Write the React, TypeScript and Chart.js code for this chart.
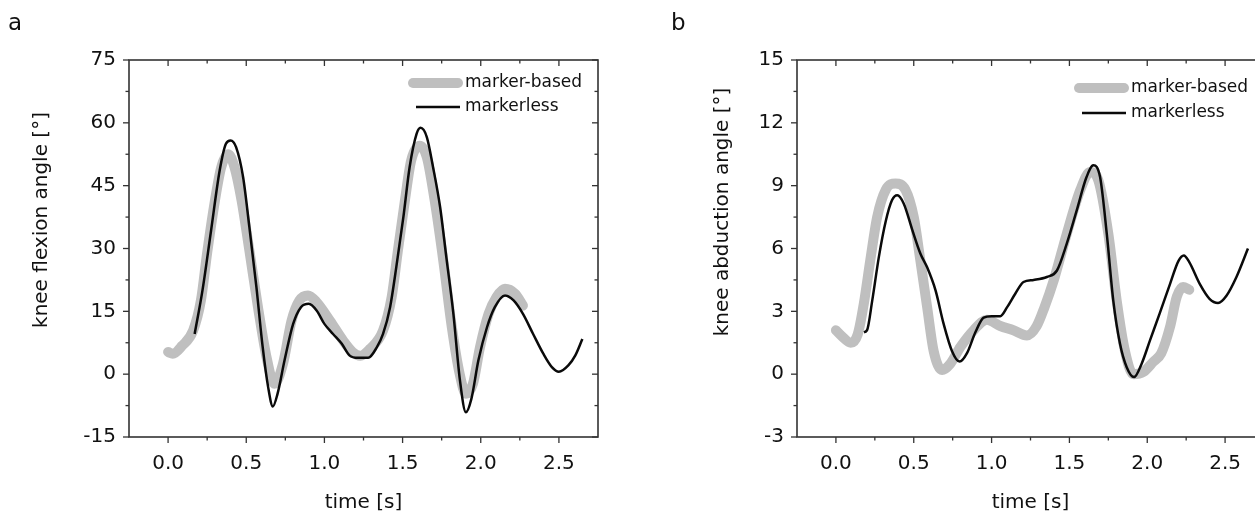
import React, { useEffect, useRef } from "react";
import { Chart, registerables } from "chart.js";

Chart.register(...registerables);

// ---------- data ----------
const xTickValues = [0, 0.5, 1.0, 1.5, 2.0, 2.5];
const flexionTickValues = [-15, 0, 15, 30, 45, 60, 75];
const abductionTickValues = [-3, 0, 3, 6, 9, 12, 15];

const flexionMarkerBasedTime = [0.0, 0.03, 0.09, 0.16, 0.21, 0.25, 0.3, 0.34, 0.385, 0.425, 0.47, 0.52, 0.575, 0.63, 0.68, 0.735, 0.79, 0.84, 0.895, 0.95, 1.035, 1.12, 1.18, 1.23, 1.29, 1.375, 1.43, 1.47, 1.515, 1.555, 1.61, 1.655, 1.705, 1.76, 1.815, 1.865, 1.905, 1.95, 1.995, 2.05, 2.1, 2.155, 2.22, 2.27];
const flexionMarkerBasedAngle = [5.3, 4.9, 6.8, 10.4, 17.6, 29, 41.5, 49.4, 52.5, 49.4, 41.5, 29.5, 16, 4, -2.3, 2.5, 12.8, 17.6, 18.8, 17.2, 12.8, 8, 5.3, 4.4, 6.0, 10.4, 18.4, 29.5, 41.5, 51, 54.5, 51.8, 41.5, 27.2, 11.2, 0.1, -4.7, -2.3, 6.4, 14.4, 18.4, 20.4, 19.2, 16.4];

const flexionMarkerlessTime = [0.17, 0.22, 0.275, 0.33, 0.37, 0.4, 0.435, 0.48, 0.52, 0.565, 0.605, 0.64, 0.67, 0.7, 0.745, 0.8, 0.85, 0.9, 0.95, 1.0, 1.055, 1.11, 1.16, 1.215, 1.28, 1.335, 1.375, 1.42, 1.46, 1.505, 1.545, 1.59, 1.615, 1.655, 1.695, 1.74, 1.78, 1.825, 1.867, 1.905, 1.94, 1.985, 2.04, 2.09, 2.155, 2.21, 2.27, 2.335, 2.4, 2.455, 2.5, 2.56, 2.605, 2.65];
const flexionMarkerlessAngle = [9.6, 20, 34.3, 48.6, 55, 55.8, 54.2, 47, 35.1, 20.8, 6.5, -3.1, -7.7, -4.7, 3.3, 12, 16, 16.8, 15.2, 12, 9.6, 7.3, 4.5, 3.9, 3.9, 6.4, 9.6, 16, 25.6, 37.5, 49.4, 57.4, 58.8, 56.6, 49.4, 39.9, 27.9, 14.4, -1.5, -9.1, -5.9, 3.3, 11.2, 16, 18.8, 17.6, 14.4, 9.6, 4.9, 1.7, 0.6, 2.1, 4.5, 8.4];

const abductionMarkerBasedTime = [0.0, 0.04, 0.095, 0.14, 0.18, 0.22, 0.265, 0.32, 0.383, 0.447, 0.5, 0.543, 0.586, 0.628, 0.682, 0.735, 0.8, 0.885, 0.97, 1.056, 1.14, 1.227, 1.29, 1.34, 1.4, 1.483, 1.57, 1.633, 1.686, 1.75, 1.804, 1.857, 1.91, 1.974, 2.04, 2.09, 2.146, 2.19, 2.23, 2.27];
const abductionMarkerBasedAngle = [2.1, 1.8, 1.5, 1.9, 3.4, 5.4, 7.5, 8.8, 9.1, 8.8, 7.5, 5.4, 3.2, 1.1, 0.2, 0.5, 1.3, 2.1, 2.6, 2.3, 2.1, 1.85, 2.3, 3.2, 4.5, 6.7, 8.8, 9.65, 9.25, 6.7, 3.5, 1.1, 0.0, 0.1, 0.6, 1.0, 2.25, 3.7, 4.16, 4.03];

const abductionMarkerlessTime = [0.18, 0.2, 0.233, 0.276, 0.32, 0.36, 0.394, 0.436, 0.49, 0.543, 0.586, 0.64, 0.692, 0.746, 0.795, 0.842, 0.896, 0.949, 1.0, 1.056, 1.1, 1.152, 1.205, 1.27, 1.355, 1.42, 1.483, 1.547, 1.61, 1.654, 1.697, 1.74, 1.782, 1.825, 1.868, 1.915, 1.964, 2.017, 2.08, 2.146, 2.2, 2.235, 2.27, 2.338, 2.4, 2.455, 2.51, 2.573, 2.647];
const abductionMarkerlessAngle = [2.0, 2.1, 3.5, 5.6, 7.3, 8.3, 8.54, 8.14, 6.9, 5.75, 5.1, 4.0, 2.4, 1.1, 0.6, 1.0, 2.0, 2.7, 2.77, 2.77, 3.2, 3.84, 4.4, 4.5, 4.64, 4.95, 6.23, 7.82, 9.41, 9.97, 9.41, 6.7, 3.5, 1.45, 0.33, -0.14, 0.5, 1.6, 2.9, 4.3, 5.4, 5.67, 5.35, 4.3, 3.6, 3.4, 3.76, 4.64, 6.0];

const legendLabels = ["marker-based", "markerless"];

// ---------- styles ----------
const GRAY = "#bfbfbf";
const BLACK = "#0a0a0a";
const AXIS = "#333333";
const TEXT = "#111111";
const FONT = "'DejaVu Sans', 'Liberation Sans', Arial, sans-serif";

function pts(t: number[], v: number[]) {
  return t.map((x, i) => ({ x, y: v[i] }));
}

function minorBetween(major: number[], lo: number, hi: number) {
  const out: number[] = [];
  const step = major[1] - major[0];
  const ext = [major[0] - step, ...major, major[major.length - 1] + step];
  for (let i = 0; i < ext.length - 1; i++) {
    const m = (ext[i] + ext[i + 1]) / 2;
    if (m > lo && m < hi) out.push(m);
  }
  return out;
}

const decorPlugin = {
  id: "decor",
  afterDraw(chart: any, _args: any, o: any) {
    const { ctx, chartArea: a, scales } = chart;
    const xs = scales.x;
    const ys = scales.y;
    ctx.save();
    // frame
    ctx.strokeStyle = AXIS;
    ctx.lineWidth = 1.6;
    ctx.strokeRect(a.left, a.top, a.right - a.left, a.bottom - a.top);
    const MAJ = 6;
    const MIN = 3.5;
    const tick = (x1: number, y1: number, x2: number, y2: number) => {
      ctx.beginPath();
      ctx.moveTo(x1, y1);
      ctx.lineTo(x2, y2);
      ctx.stroke();
    };
    ctx.lineWidth = 1.3;
    const xMaj: number[] = o.xMajor;
    const xMin = minorBetween(xMaj, xs.min, xs.max);
    const yMaj: number[] = o.yMajor;
    const yMin = minorBetween(yMaj, ys.min, ys.max);
    for (const v of xMaj) {
      const px = xs.getPixelForValue(v);
      tick(px, a.bottom, px, a.bottom + MAJ);
      tick(px, a.top, px, a.top + MAJ);
    }
    for (const v of xMin) {
      const px = xs.getPixelForValue(v);
      tick(px, a.bottom, px, a.bottom + MIN);
      tick(px, a.top, px, a.top + MIN);
    }
    for (const v of yMaj) {
      const py = ys.getPixelForValue(v);
      tick(a.left, py, a.left - MAJ, py);
      tick(a.right, py, a.right - MAJ, py);
    }
    for (const v of yMin) {
      const py = ys.getPixelForValue(v);
      tick(a.left, py, a.left - MIN, py);
      tick(a.right, py, a.right - MIN, py);
    }

    // legend
    const ds = chart.data.datasets;
    const rows = [ds[1], ds[0]];
    ctx.font = `17px ${FONT}`;
    ctx.fillStyle = TEXT;
    ctx.textBaseline = "middle";
    ctx.textAlign = "left";
    rows.forEach((d: any, i: number) => {
      const y = a.top + o.legendRows[i];
      ctx.strokeStyle = d.borderColor;
      ctx.lineWidth = d.borderWidth;
      ctx.lineCap = i === 0 ? "round" : "butt";
      if (i === 0) tick(a.right - 185, y, a.right - 140, y);
      else tick(a.right - 182, y, a.right - 138, y);
      ctx.fillText(legendLabels[i], a.right - 133, y);
    });

    // axis titles
    ctx.fillStyle = TEXT;
    ctx.font = `20px ${FONT}`;
    ctx.textAlign = "center";
    ctx.textBaseline = "alphabetic";
    ctx.fillText(o.xTitle, (a.left + a.right) / 2, 507.5);
    ctx.save();
    ctx.translate(o.yTitleX, o.yTitleY);
    ctx.rotate(-Math.PI / 2);
    ctx.fillText(o.yTitle, 0, 0);
    ctx.restore();

    // panel letter
    ctx.font = `23px ${FONT}`;
    ctx.textAlign = "left";
    ctx.fillText(o.panel, o.panelX, 30);
    ctx.restore();
  },
};

type Panel = {
  width: number;
  yAxisWidth: number;
  padRight: number;
  yMin: number;
  yMax: number;
  yTicks: number[];
  basedT: number[];
  basedV: number[];
  lessT: number[];
  lessV: number[];
  yTitle: string;
  yTitleX: number;
  yTitleY: number;
  legendRows: number[];
  panel: string;
  panelX: number;
};

function makeConfig(p: Panel): any {
  const tickFont = { family: FONT, size: 20 };
  return {
    type: "line",
    data: {
      datasets: [
        {
          label: legendLabels[1],
          data: pts(p.lessT, p.lessV),
          borderColor: BLACK,
          borderWidth: 2.5,
          pointRadius: 0,
          fill: false,
          cubicInterpolationMode: "monotone",
        },
        {
          label: legendLabels[0],
          data: pts(p.basedT, p.basedV),
          borderColor: GRAY,
          borderWidth: 10,
          borderCapStyle: "round",
          borderJoinStyle: "round",
          pointRadius: 0,
          fill: false,
          cubicInterpolationMode: "monotone",
        },
      ],
    },
    options: {
      animation: false,
      responsive: false,
      events: [],
      layout: { padding: { left: 0, top: 60, right: p.padRight, bottom: 0 } },
      plugins: {
        legend: { display: false },
        tooltip: { enabled: false },
        decor: {
          xMajor: xTickValues,
          yMajor: p.yTicks,
          xTitle: "time [s]",
          yTitle: p.yTitle,
          yTitleX: p.yTitleX,
          yTitleY: p.yTitleY,
          legendRows: p.legendRows,
          panel: p.panel,
          panelX: p.panelX,
        },
      },
      scales: {
        x: {
          type: "linear",
          min: -0.25,
          max: 2.75,
          grid: { display: false, drawTicks: false },
          border: { display: false },
          afterBuildTicks: (s: any) => {
            s.ticks = xTickValues.map((value) => ({ value }));
          },
          afterFit: (s: any) => {
            s.height = 75;
          },
          ticks: {
            font: tickFont,
            color: TEXT,
            padding: 15,
            maxRotation: 0,
            autoSkip: false,
            callback: (v: any) => Number(v).toFixed(1),
          },
        },
        y: {
          type: "linear",
          min: p.yMin,
          max: p.yMax,
          grid: { display: false, drawTicks: false },
          border: { display: false },
          afterBuildTicks: (s: any) => {
            s.ticks = p.yTicks.map((value) => ({ value }));
          },
          afterFit: (s: any) => {
            s.width = p.yAxisWidth;
          },
          ticks: {
            font: tickFont,
            color: TEXT,
            padding: 13,
            autoSkip: false,
            callback: (v: any) => String(v),
          },
        },
      },
    },
    plugins: [decorPlugin],
  };
}

const leftPanel: Panel = {
  width: 627,
  yAxisWidth: 129,
  padRight: 29,
  yMin: -15,
  yMax: 75,
  yTicks: flexionTickValues,
  basedT: flexionMarkerBasedTime,
  basedV: flexionMarkerBasedAngle,
  lessT: flexionMarkerlessTime,
  lessV: flexionMarkerlessAngle,
  yTitle: "knee flexion angle [°]",
  yTitleX: 47,
  yTitleY: 220,
  legendRows: [23, 47],
  panel: "a",
  panelX: 8,
};

const rightPanel: Panel = {
  width: 700,
  yAxisWidth: 170,
  padRight: 63,
  yMin: -3,
  yMax: 15,
  yTicks: abductionTickValues,
  basedT: abductionMarkerBasedTime,
  basedV: abductionMarkerBasedAngle,
  lessT: abductionMarkerlessTime,
  lessV: abductionMarkerlessAngle,
  yTitle: "knee abduction angle [°]",
  yTitleX: 101,
  yTitleY: 212,
  legendRows: [28, 53],
  panel: "b",
  panelX: 44,
};

function PanelChart({ p, left }: { p: Panel; left: number }) {
  const ref = useRef<HTMLCanvasElement | null>(null);
  useEffect(() => {
    if (!ref.current) return;
    const chart = new Chart(ref.current, makeConfig(p));
    return () => chart.destroy();
  }, [p]);
  return (
    <canvas
      ref={ref}
      width={p.width}
      height={512}
      style={{ position: "absolute", left, top: 0, width: p.width, height: 512 }}
    />
  );
}

export default function App() {
  return (
    <div
      style={{
        position: "absolute",
        left: 0,
        top: 0,
        width: 1255,
        height: 512,
        overflow: "hidden",
        background: "#ffffff",
      }}
    >
      <PanelChart p={leftPanel} left={0} />
      <PanelChart p={rightPanel} left={627} />
    </div>
  );
}
